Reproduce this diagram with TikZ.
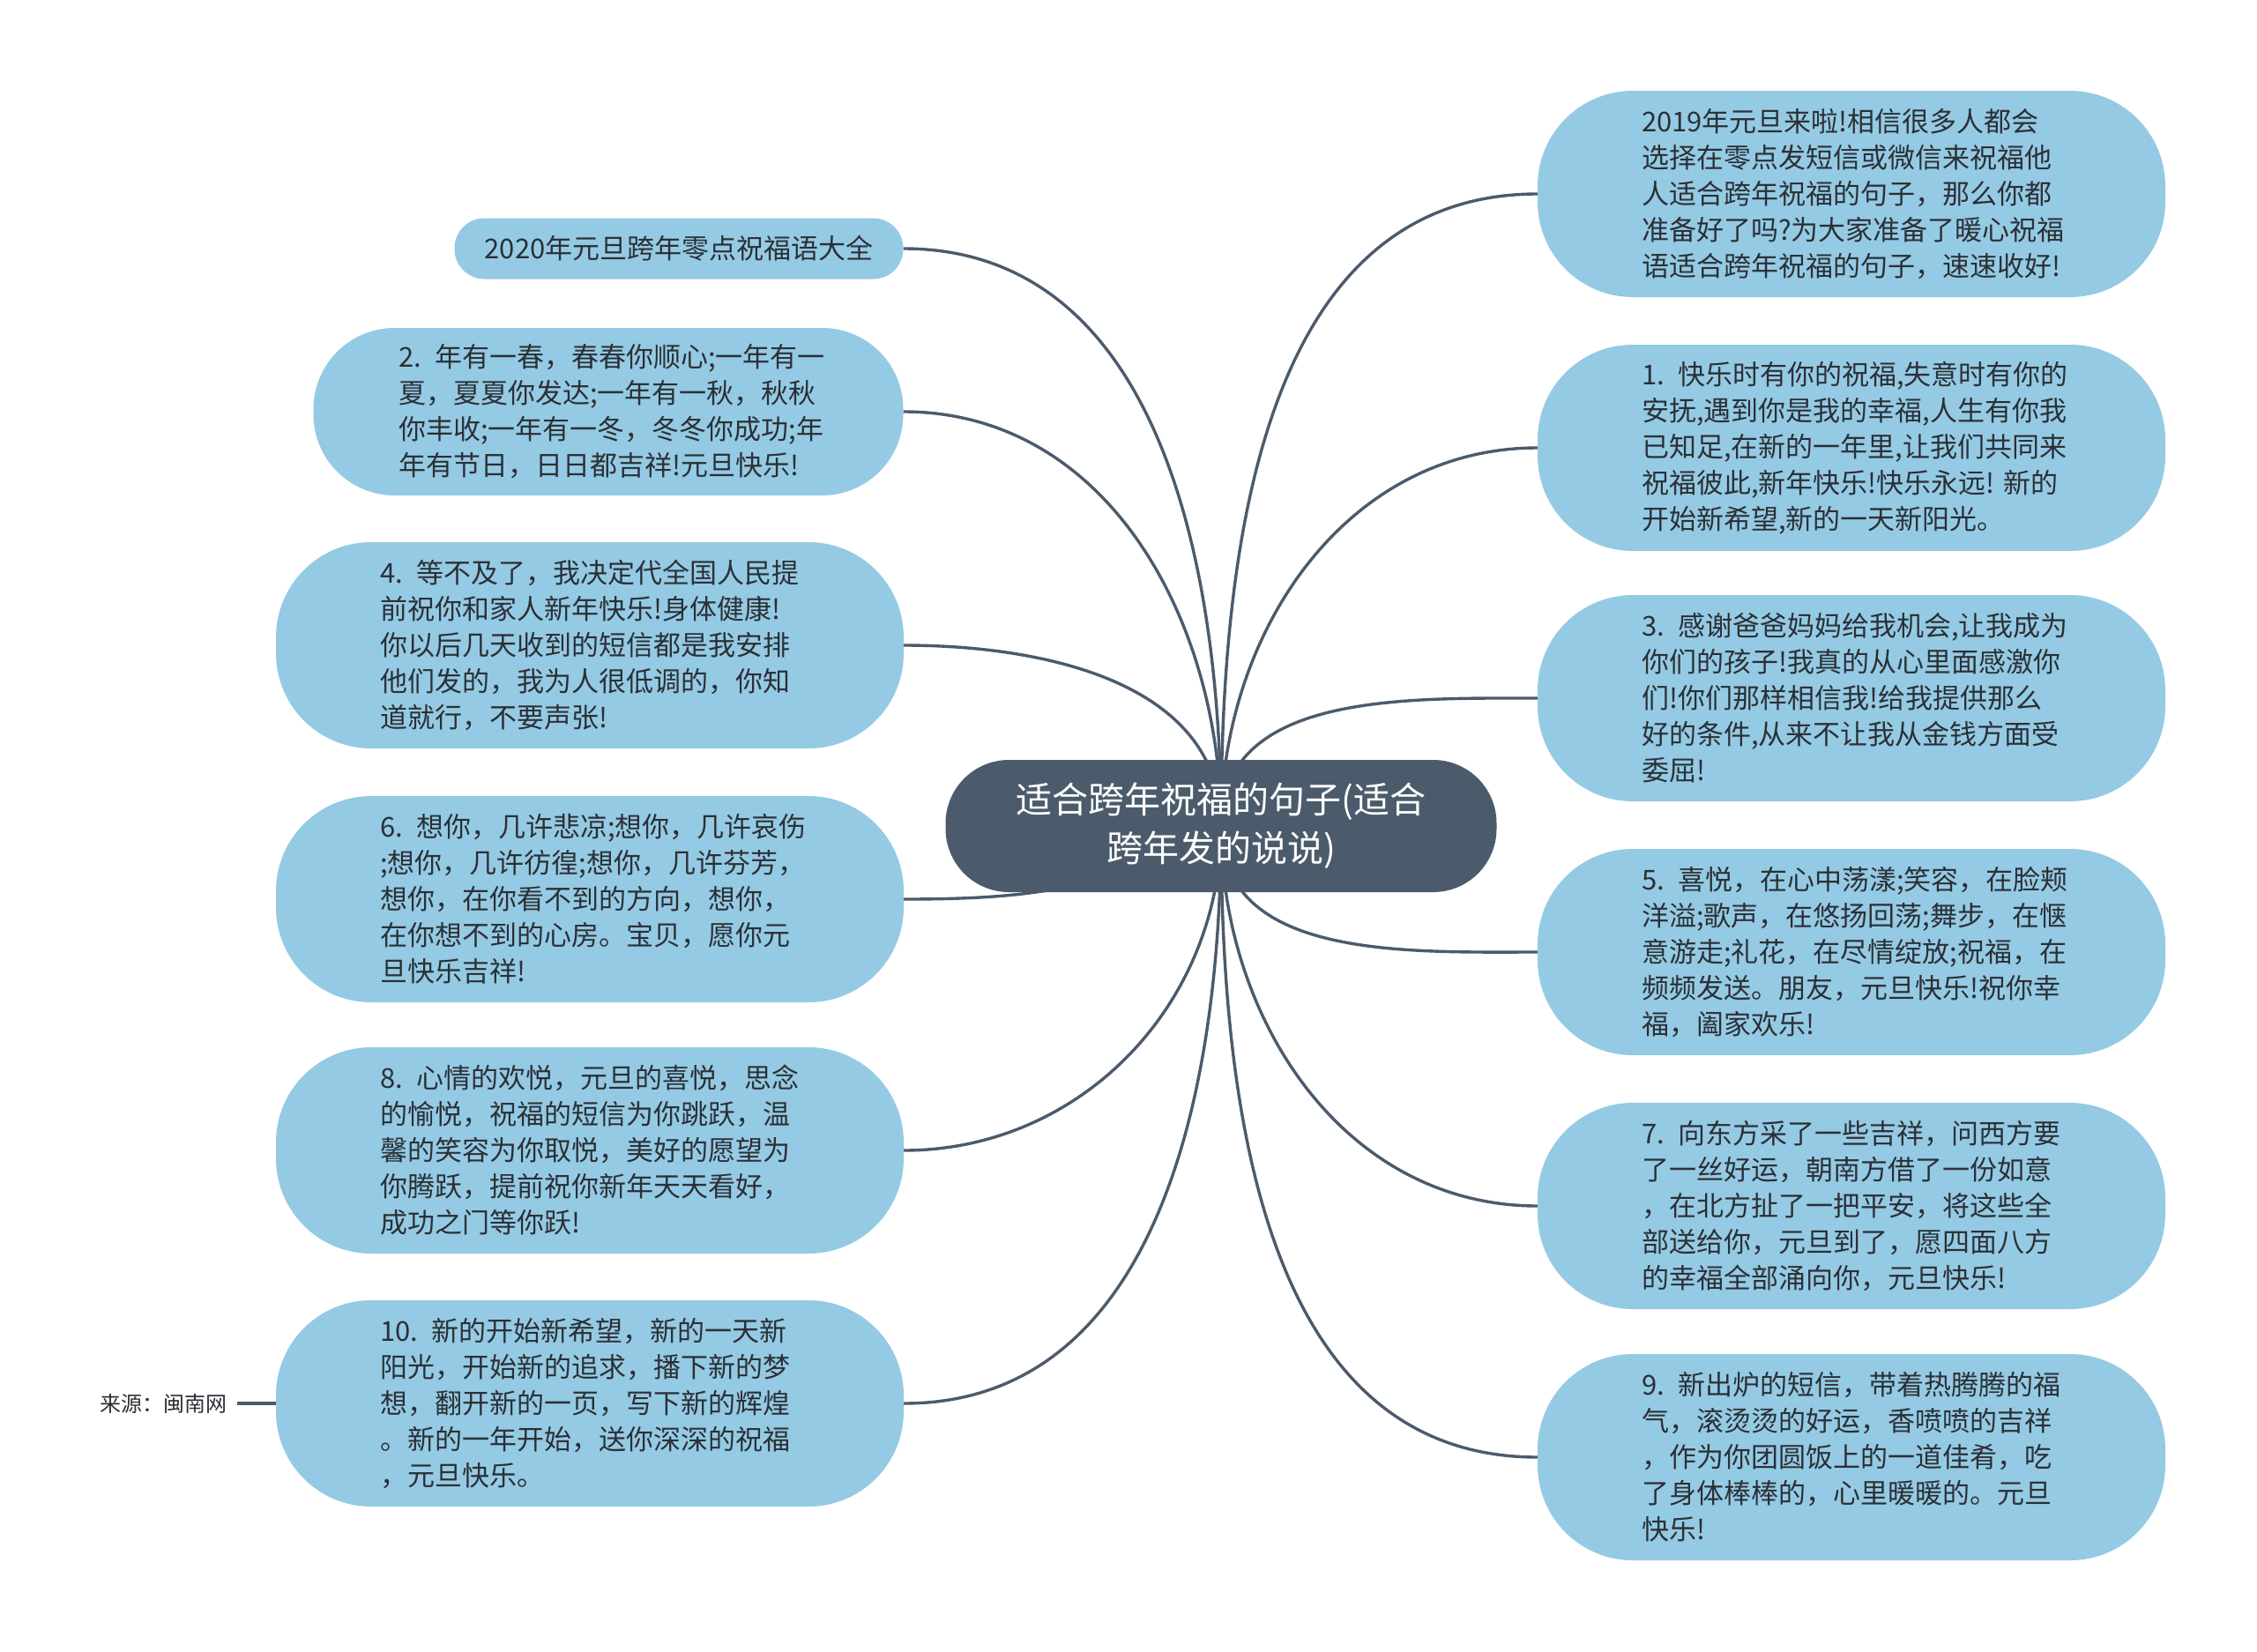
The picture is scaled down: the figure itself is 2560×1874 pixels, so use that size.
\documentclass[tikz,border=0pt]{standalone}
\usepackage{fontspec}
\newfontfamily\cjk{Noto Sans CJK SC}
\usepackage{tikz}
\usetikzlibrary{positioning,backgrounds}
\definecolor{hub}{HTML}{4B5B6B}
\definecolor{leafblue}{HTML}{95CAE4}
\definecolor{ink}{HTML}{2B3035}

\begin{document}
\begin{tikzpicture}[x=1pt,y=-1pt,
    hubnode/.style={fill=hub,rounded corners=72pt,minimum width=625pt,minimum height=150pt,text=white,align=center,font=\cjk\fontsize{41}{55}\selectfont},
    leaf/.style={fill=leafblue,rounded corners=108pt,minimum width=712pt,minimum height=234pt,inner xsep=0pt,text width=476pt,align=left,text=ink,font=\cjk\fontsize{31}{41}\selectfont},
    tag/.style={fill=leafblue,rounded corners=34pt,minimum width=509pt,minimum height=69pt,text=ink,font=\cjk\fontsize{31}{41}\selectfont},
    link/.style={draw=hub,line width=3.4pt}
  ]
    \useasboundingbox (0,0) rectangle (2560,1874);
    \node[hubnode] (ctr) at (1385,937) {适合跨年祝福的句子(适合\\跨年发的说说)};
    % left side
    \node[tag] (title) at (770,282) {2020年元旦跨年零点祝福语大全};
    \node[leaf,minimum width=669pt,minimum height=190pt,rounded corners=92pt] (n2) at (690,467) {2. 年有一春，春春你顺心;一年有一\\夏，夏夏你发达;一年有一秋，秋秋\\你丰收;一年有一冬，冬冬你成功;年\\年有节日，日日都吉祥!元旦快乐!};
    \node[leaf] (n4) at (669,732) {4. 等不及了，我决定代全国人民提\\前祝你和家人新年快乐!身体健康!\\你以后几天收到的短信都是我安排\\他们发的，我为人很低调的，你知\\道就行，不要声张!};
    \node[leaf] (n6) at (669,1020) {6. 想你，几许悲凉;想你，几许哀伤\\;想你，几许彷徨;想你，几许芬芳，\\想你，在你看不到的方向，想你，\\在你想不到的心房。宝贝，愿你元\\旦快乐吉祥!};
    \node[leaf] (n8) at (669,1305) {8. 心情的欢悦，元旦的喜悦，思念\\的愉悦，祝福的短信为你跳跃，温\\馨的笑容为你取悦，美好的愿望为\\你腾跃，提前祝你新年天天看好，\\成功之门等你跃!};
    \node[leaf] (n10) at (669,1592) {10. 新的开始新希望，新的一天新\\阳光，开始新的追求，播下新的梦\\想，翻开新的一页，写下新的辉煌\\。新的一年开始，送你深深的祝福\\，元旦快乐。};
    \node[anchor=east,inner xsep=11pt,text=ink,font=\cjk\fontsize{24}{30}\selectfont] (src) at (269,1592) {来源：闽南网};
    % right side
    \node[leaf] (r0) at (2100,220) {2019年元旦来啦!相信很多人都会\\选择在零点发短信或微信来祝福他\\人适合跨年祝福的句子，那么你都\\准备好了吗?为大家准备了暖心祝福\\语适合跨年祝福的句子，速速收好!};
    \node[leaf] (n1) at (2100,508) {1. 快乐时有你的祝福,失意时有你的\\安抚,遇到你是我的幸福,人生有你我\\已知足,在新的一年里,让我们共同来\\祝福彼此,新年快乐!快乐永远!~新的\\开始新希望,新的一天新阳光。};
    \node[leaf] (n3) at (2100,792) {3. 感谢爸爸妈妈给我机会,让我成为\\你们的孩子!我真的从心里面感激你\\们!你们那样相信我!给我提供那么\\好的条件,从来不让我从金钱方面受\\委屈!};
    \node[leaf] (n5) at (2100,1080) {5. 喜悦，在心中荡漾;笑容，在脸颊\\洋溢;歌声，在悠扬回荡;舞步，在惬\\意游走;礼花，在尽情绽放;祝福，在\\频频发送。朋友，元旦快乐!祝你幸\\福，阖家欢乐!};
    \node[leaf] (n7) at (2100,1368) {7. 向东方采了一些吉祥，问西方要\\了一丝好运，朝南方借了一份如意\\，在北方扯了一把平安，将这些全\\部送给你，元旦到了，愿四面八方\\的幸福全部涌向你，元旦快乐!};
    \node[leaf] (n9) at (2100,1653) {9. 新出炉的短信，带着热腾腾的福\\气，滚烫烫的好运，香喷喷的吉祥\\，作为你团圆饭上的一道佳肴，吃\\了身体棒棒的，心里暖暖的。元旦\\快乐!};
    % branches
    \begin{pgfonlayer}{background}
      \foreach \n in {title,n2,n4} \draw[link] (ctr.center) to[out=90,in=0] (\n.east);
      \draw[link] (ctr.center) to[out=-150,in=0] (n6.east);
      \foreach \n in {n8,n10} \draw[link] (ctr.center) to[out=-90,in=0] (\n.east);
      \foreach \n in {r0,n1,n3} \draw[link] (ctr.center) to[out=90,in=180] (\n.west);
      \foreach \n in {n5,n7,n9} \draw[link] (ctr.center) to[out=-90,in=180] (\n.west);
      \draw[link] (src.east) -- (n10.west);
    \end{pgfonlayer}
\end{tikzpicture}
\end{document}
